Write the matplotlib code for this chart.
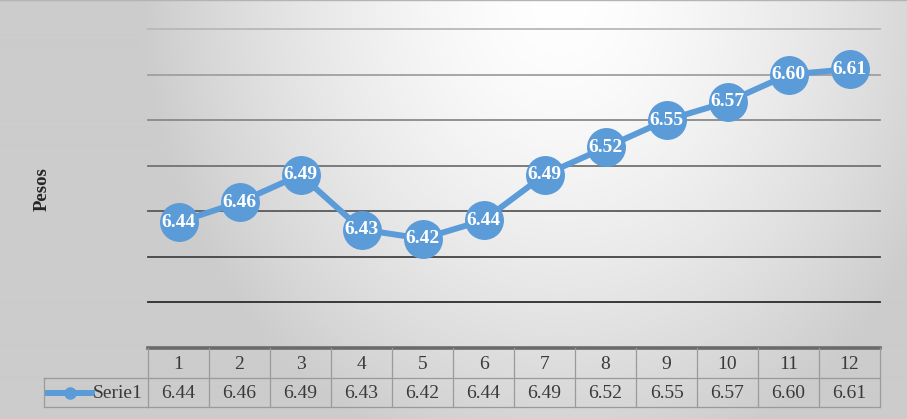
import numpy as np
import matplotlib
matplotlib.use("Agg")
import matplotlib.pyplot as plt
import matplotlib.transforms as mtransforms

# ---- data ----
months = [1, 2, 3, 4, 5, 6, 7, 8, 9, 10, 11, 12]
pesos = [6.438, 6.46, 6.49, 6.43, 6.42, 6.44, 6.49, 6.52, 6.55, 6.57, 6.60, 6.606]
series_name = "Serie1"
y_label = "Pesos"
grid_vals = [6.30, 6.35, 6.40, 6.45, 6.50, 6.55, 6.60, 6.65]

W, H = 907, 419
BLUE = "#5A9BD8"
SERIF = ["Liberation Serif", "DejaVu Serif"]

fig = plt.figure(figsize=(W / 100, H / 100), dpi=100)

# ---- background gradient ----
bg = fig.add_axes([0, 0, 1, 1], zorder=-10)
xx, yy = np.meshgrid(np.arange(W), np.arange(H))
t = np.sqrt(((xx - 560) / 420.0) ** 2 + ((yy - 0) / 480.0) ** 2)
t = np.clip(t, 0, 1) ** 1.5
v = 1.0 - 0.2 * t
bg.imshow(np.dstack([v, v, v]), aspect="auto", extent=[0, 1, 0, 1], origin="upper")
bg.axis("off")


def fx(p):
    return p / W


def fy(p):
    return 1 - p / H


fig.add_artist(plt.Line2D([0, 1], [fy(0.5), fy(0.5)], color="#b4b4b4", lw=1.0,
                          transform=fig.transFigure))

# ---- main axes ----
left, right, top, bottom = 148, 880, 29, 348
ax = fig.add_axes([fx(left), fy(bottom), fx(right) - fx(left), fy(top) - fy(bottom)])
ax.set_facecolor("none")
ax.set_xlim(0.5, 12.5)
ax.set_ylim(grid_vals[0], grid_vals[-1])
for s in ax.spines.values():
    s.set_visible(False)
ax.set_xticks([])
ax.set_yticks([])

# gridlines: lighter at top, darker at bottom
for i, g in enumerate(grid_vals):
    frac = (g - grid_vals[0]) / (grid_vals[-1] - grid_vals[0])
    c = 0.08 + 0.64 * frac
    if i == 0:
        ax.axhline(g, color="#6a6a6a", lw=2.6, zorder=1, clip_on=False)
    else:
        ax.axhline(g, color=(c, c, c), lw=1.3, zorder=1, clip_on=False)

# line and markers
ax.plot(months, pesos, color=BLUE, lw=4.3, marker="o", markersize=27,
        markerfacecolor=BLUE, markeredgecolor=BLUE, zorder=3, clip_on=False)
for m, p in zip(months, pesos):
    ax.text(m, p, f"{p:.2f}", ha="center", va="center", color="white",
            fontsize=14, fontweight="bold", family=SERIF, zorder=4)

# ---- data table ----
trans = mtransforms.blended_transform_factory(ax.transData, fig.transFigure)
tcol = "#3a3a3a"
bcol = "#9a9a9a"
row1_top, row1_bot, row2_bot = 348, 378, 407
edges = [m - 0.5 for m in months] + [months[-1] + 0.5]

for e in edges:
    ax.plot([e, e], [fy(row1_top), fy(row2_bot)], color=bcol, lw=0.9,
            transform=trans, clip_on=False, zorder=2)
ax.plot([edges[0], edges[-1]], [fy(row1_bot), fy(row1_bot)], color=bcol, lw=0.9,
        transform=trans, clip_on=False, zorder=2)
ax.plot([edges[0], edges[-1]], [fy(row2_bot), fy(row2_bot)], color=bcol, lw=0.9,
        transform=trans, clip_on=False, zorder=2)
fl = fig.transFigure
fig.add_artist(plt.Line2D([fx(44), fx(148)], [fy(row1_bot), fy(row1_bot)], color=bcol, lw=0.9, transform=fl))
fig.add_artist(plt.Line2D([fx(44), fx(148)], [fy(row2_bot), fy(row2_bot)], color=bcol, lw=0.9, transform=fl))
fig.add_artist(plt.Line2D([fx(44), fx(44)], [fy(row1_bot), fy(row2_bot)], color=bcol, lw=0.9, transform=fl))

shown = [f"{p:.2f}" for p in pesos]
for m, s in zip(months, shown):
    ax.text(m, fy((row1_top + row1_bot) / 2 + 1), str(m), ha="center", va="center",
            color=tcol, fontsize=14, family=SERIF, transform=trans, clip_on=False)
    ax.text(m, fy((row1_bot + row2_bot) / 2 + 1), s, ha="center", va="center",
            color=tcol, fontsize=14, family=SERIF, transform=trans, clip_on=False)

ymid = fy((row1_bot + row2_bot) / 2)
fig.add_artist(plt.Line2D([fx(48), fx(92)], [ymid, ymid], color=BLUE, lw=4.3, transform=fl))
fig.add_artist(plt.Line2D([fx(70)], [ymid], color=BLUE, marker="o", markersize=8, transform=fl))
fig.text(fx(93), fy((row1_bot + row2_bot) / 2 + 1), series_name, ha="left", va="center",
         color=tcol, fontsize=14, family=SERIF)

# ---- y label ----
fig.text(fx(42), fy(189), y_label, rotation=90, ha="center", va="center",
         fontsize=13.5, fontweight="bold", family=SERIF, color="#262626")

fig.savefig("out.png", dpi=100)
